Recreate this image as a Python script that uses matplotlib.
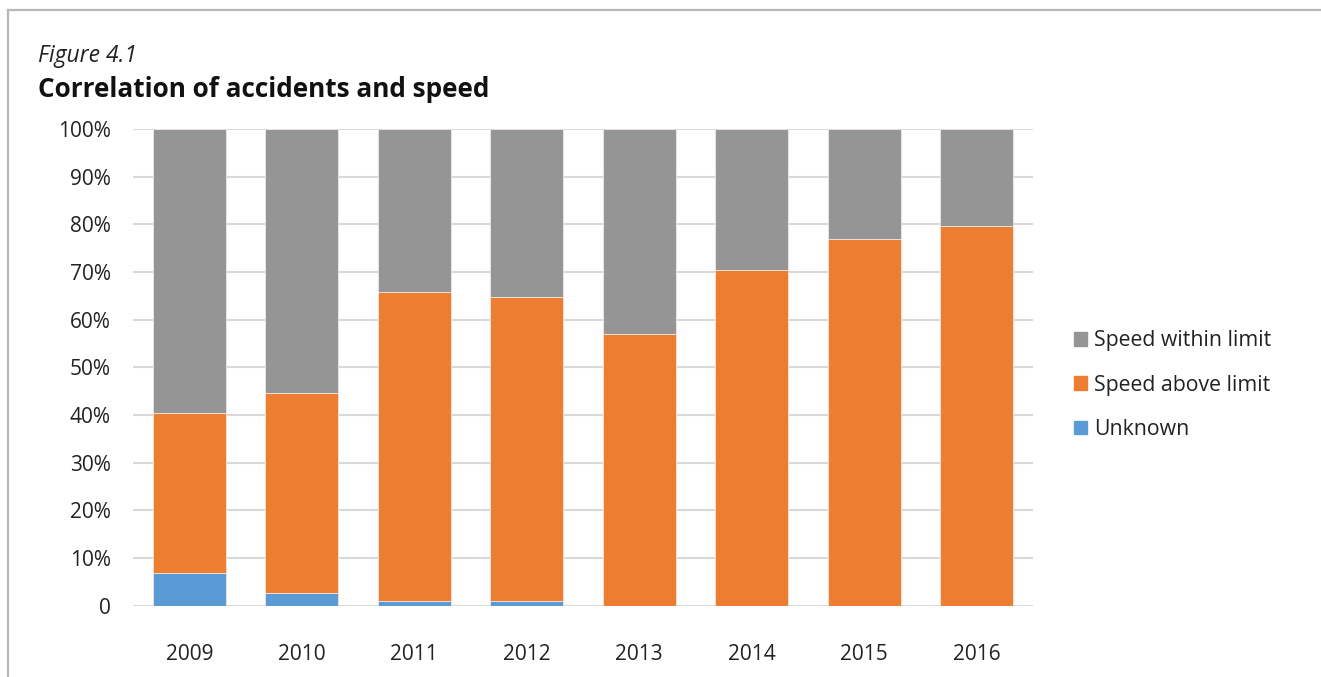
import numpy as np
import matplotlib
matplotlib.use("Agg")
import matplotlib.pyplot as plt
from matplotlib.patches import Patch
from matplotlib.lines import Line2D

plt.rcParams['font.family'] = ['Open Sans', 'DejaVu Sans']

# data (% of accidents per year)
years = ['2009', '2010', '2011', '2012', '2013', '2014', '2015', '2016']
unknown = [6.8, 2.7, 0.9, 0.9, 0.0, 0.0, 0.0, 0.0]
above_top = [40.5, 44.5, 65.7, 64.8, 56.9, 70.4, 76.9, 79.6]   # cumulative top of orange
above = [t - u for t, u in zip(above_top, unknown)]
within = [100 - t for t in above_top]

c_unknown = '#5B9BD5'
c_above = '#ED7D31'
c_within = '#959595'

fig = plt.figure(figsize=(13.21, 6.77), dpi=100)
ax = fig.add_axes([0.1007, 0.1056, 0.6813, 0.7039])

x = np.arange(len(years))
w = 0.65
ec = dict(edgecolor='#F3E7DF', linewidth=0.6)
ax.bar(x, unknown, w, color=c_unknown, zorder=3, **ec)
ax.bar(x, above, w, bottom=unknown, color=c_above, zorder=3, **ec)
ax.bar(x, within, w, bottom=above_top, color=c_within, zorder=3, **ec)

ax.set_xlim(-0.5, len(years) - 0.5)
ax.set_ylim(0, 100)
yt = np.arange(0, 101, 10)
ax.set_yticks(yt)
ax.set_yticklabels(['0'] + [f'{v}%' for v in yt[1:]])
ax.set_xticks(x)
ax.set_xticklabels(years)
ax.tick_params(axis='y', length=0, pad=16, labelsize=15, labelcolor='#222222')
ax.tick_params(axis='x', length=0, pad=28, labelsize=15, labelcolor='#222222')
ax.grid(axis='y', color='#D9D9D9', linewidth=1.5, zorder=0)
for s in ax.spines.values():
    s.set_visible(False)

# legend (top entry first)
handles = [Patch(color=c_within), Patch(color=c_above), Patch(color=c_unknown)]
labels = ['Speed within limit', 'Speed above limit', 'Unknown']
fig.legend(handles, labels, loc='center left', bbox_to_anchor=(0.813, 0.431),
           frameon=False, fontsize=15.3, handlelength=0.6, handleheight=0.6,
           handletextpad=0.33, labelspacing=1.1, labelcolor='#222222',
           borderpad=0, borderaxespad=0)

# titles
fig.text(0.0288, 0.918, 'Figure 4.1', fontsize=16.5, style='italic',
         color='#222222', va='center')
fig.text(0.0288, 0.868, 'Correlation of accidents and speed', fontsize=18.8,
         fontweight='bold', color='#111111', va='center')

# frame lines at top and left
fig.add_artist(Line2D([8 / 1321, 1], [1 - 10 / 677] * 2, color='#B8B8B8',
                      linewidth=1.6, transform=fig.transFigure))
fig.add_artist(Line2D([8 / 1321] * 2, [0, 1 - 10 / 677], color='#B8B8B8',
                      linewidth=1.6, transform=fig.transFigure))

fig.savefig('out.png', dpi=100)
